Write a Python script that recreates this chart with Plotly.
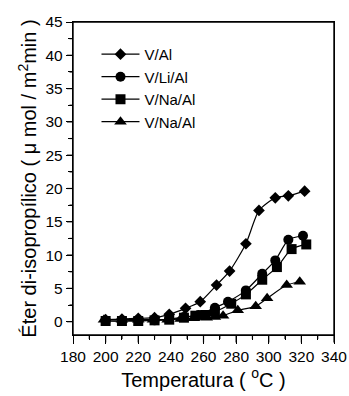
import plotly.graph_objects as go

# Data
x_val = [200, 210, 220, 230, 239, 249, 258, 268, 276, 286, 294, 304, 312, 322]
y_val = [0.3, 0.4, 0.5, 0.6, 1.1, 2.0, 3.0, 5.5, 7.6, 11.7, 16.7, 18.6, 18.9, 19.6]

x_vlial = [200, 210, 220, 230, 239, 248, 257, 267, 275, 286, 296, 304, 312, 321]
y_vlial = [0.1, 0.1, 0.2, 0.2, 0.4, 0.7, 1.0, 2.1, 3.0, 4.7, 7.2, 9.2, 12.3, 12.9]

x_vnaal = [200, 210, 220, 230, 239, 248, 255, 261, 267, 277, 286, 296, 305, 314, 323]
y_vnaal = [0.1, 0.1, 0.1, 0.2, 0.3, 0.6, 0.9, 1.0, 1.5, 2.7, 4.1, 6.3, 8.2, 10.9, 11.6]

x_vnaal2 = [199, 210, 220, 229, 238, 246, 254, 262, 267, 272, 281, 292, 299, 311, 319]
y_vnaal2 = [0.3, 0.3, 0.3, 0.3, 0.3, 0.4, 0.5, 0.6, 0.7, 0.9, 1.7, 2.3, 3.5, 5.5, 6.0]

series_names = ["V/Al", "V/Li/Al", "V/Na/Al", "V/Na/Al"]
symbols = ["diamond", "circle", "square", "triangle-up"]
sizes = [9, 10, 10, 11]

# Axis ranges and ticks
x_range = [180, 340]
y_range = [-2, 45]
x_major = [180, 200, 220, 240, 260, 280, 300, 320, 340]
x_minor = [190, 210, 230, 250, 270, 290, 310, 330]
y_major = [0, 5, 10, 15, 20, 25, 30, 35, 40, 45]
y_minor = [2.5, 7.5, 12.5, 17.5, 22.5, 27.5, 32.5, 37.5, 42.5]

FONT = "Arial"
W, H = 349, 396
ML, MR, MT, MB = 73, 15, 22, 61
PW, PH = W - ML - MR, H - MT - MB

XL_MAJ, XL_MIN = 7.5, 4
YL_MAJ, YL_MIN = 6, 3.5
AX_W = 1.4

fig = go.Figure()
for xs, ys, name, sym, sz in zip(
    [x_val, x_vlial, x_vnaal, x_vnaal2],
    [y_val, y_vlial, y_vnaal, y_vnaal2],
    series_names, symbols, sizes,
):
    fig.add_trace(go.Scatter(
        x=xs, y=ys, name=name, mode="lines+markers",
        line=dict(color="black", width=1.2, shape="spline", smoothing=0.6),
        marker=dict(symbol=sym, size=sz, color="black"),
    ))

# Frame and outside tick marks as layout shapes (backup for the axis lines)
shapes = [dict(type="rect", xref="paper", yref="paper", x0=0, y0=0, x1=1, y1=1,
               line=dict(color="black", width=AX_W), layer="above")]
for t in x_major + x_minor:
    ln = XL_MAJ if t in x_major else XL_MIN
    shapes.append(dict(type="line", xref="x", yref="paper", x0=t, x1=t,
                       y0=0, y1=-ln / PH, line=dict(color="black", width=1.2)))
for t in y_major + y_minor:
    ln = YL_MAJ if t in y_major else YL_MIN
    shapes.append(dict(type="line", xref="paper", yref="y", y0=t, y1=t,
                       x0=0, x1=-ln / PW, line=dict(color="black", width=1.2)))

common = dict(
    showline=True, linecolor="#000000", linewidth=AX_W, mirror=True,
    ticks="outside", tickwidth=1.2, tickcolor="#000000",
    showgrid=False, zeroline=False, automargin=False,
    tickfont=dict(family=FONT, size=15.5, color="black"),
)

fig.update_layout(
    width=W, height=H,
    margin=dict(l=ML, r=MR, t=MT, b=MB),
    plot_bgcolor="white", paper_bgcolor="white",
    font=dict(family=FONT, color="black"),
    showlegend=True,
    legend=dict(
        x=0.09, y=0.949, xanchor="left", yanchor="top",
        bgcolor="rgba(0,0,0,0)", borderwidth=0, itemwidth=38,
        font=dict(family=FONT, size=15, color="black"),
    ),
    xaxis=dict(
        range=x_range, tickvals=x_major, ticklen=XL_MAJ,
        minor=dict(tickvals=x_minor, ticks="outside", ticklen=XL_MIN, tickcolor="#000000"),
        title=dict(text="Temperatura ( <sup>o</sup>C )",
                   font=dict(family=FONT, size=20, color="black"), standoff=7),
        **common,
    ),
    yaxis=dict(
        range=y_range, tickvals=y_major, ticklen=YL_MAJ,
        minor=dict(tickvals=y_minor, ticks="outside", ticklen=YL_MIN, tickcolor="#000000"),
        title=dict(text="Éter di-isopropílico ( μ mol / m<sup>2</sup>min )",
                   font=dict(family=FONT, size=20, color="black"), standoff=3),
        **common,
    ),
    shapes=shapes,
)

fig.write_html("out.html", config={"displayModeBar": False},
               post_script="document.body.style.margin='0px';")
